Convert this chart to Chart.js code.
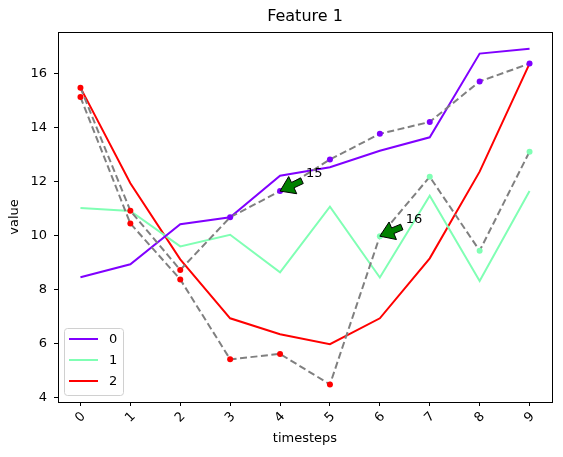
<!DOCTYPE html>
<html>
<head>
<meta charset="utf-8">
<script src="https://cdn.jsdelivr.net/npm/chart.js@4/dist/chart.umd.min.js"></script>
<style>
  body { margin: 0; background: #fff; }
  #wrap { width: 563px; height: 457px; }
</style>
</head>
<body>
<div id="wrap"><canvas id="featureChart"></canvas></div>
<script>
// data
var timesteps = [0, 1, 2, 3, 4, 5, 6, 7, 8, 9];
var seriesLabels = ["0", "1", "2"];
var seriesColors = ["#8000ff", "#80ffb4", "#ff0000"];
var series0 = [8.45, 8.93, 10.41, 10.67, 12.21, 12.52, 13.13, 13.63, 16.73, 16.91];
var series1 = [11.01, 10.90, 9.59, 10.02, 8.63, 11.06, 8.44, 11.47, 8.31, 11.64];
var series2 = [15.47, 11.93, 9.11, 6.93, 6.34, 5.97, 6.93, 9.15, 12.36, 16.36];
// dashed paths, each point coloured by its class
var pathA = [15.47, 10.91, 8.72, 10.67, 11.64, 12.81, 13.76, 14.20, 15.70, 16.36];
var pathAClass = [2, 2, 2, 0, 0, 0, 0, 0, 0, 0];
var pathB = [15.12, 10.44, 8.37, 5.41, 5.61, 4.48, 9.97, 12.17, 9.43, 13.10];
var pathBClass = [2, 2, 2, 2, 2, 2, 1, 1, 1, 1];
// annotations
var annotX = [4, 6];
var annotY = [11.64, 9.97];
var annotText = ["15", "16"];
var annotTextX = [4.52, 6.52];
var annotTextY = [12.28, 10.57];
var yTicks = [4, 6, 8, 10, 12, 14, 16];
var titleText = "Feature 1";

var FONT = "'DejaVu Sans', sans-serif";

function toPoints(ys) {
  return ys.map(function (v, i) { return { x: timesteps[i], y: v }; });
}

var datasets = [];
[pathA, pathB].forEach(function (p, k) {
  var cls = k === 0 ? pathAClass : pathBClass;
  var cols = cls.map(function (c) { return seriesColors[c]; });
  datasets.push({
    label: "path" + k,
    data: toPoints(p),
    borderColor: "#808080",
    borderWidth: 2,
    borderDash: [7, 3.5],
    pointRadius: 3,
    pointBorderWidth: 0,
    pointBackgroundColor: cols,
    pointBorderColor: cols,
    fill: false,
    tension: 0
  });
});
[series0, series1, series2].forEach(function (s, k) {
  datasets.push({
    label: seriesLabels[k],
    data: toPoints(s),
    borderColor: seriesColors[k],
    borderWidth: 2,
    pointRadius: 0,
    fill: false,
    tension: 0
  });
});

var extras = {
  id: "extras",
  afterDatasetsDraw: function (chart) {
    var ctx = chart.ctx, xs = chart.scales.x, ys = chart.scales.y;
    ctx.save();
    // arrows + labels
    for (var i = 0; i < annotX.length; i++) {
      var tx = xs.getPixelForValue(annotX[i]), ty = ys.getPixelForValue(annotY[i]);
      var lx = xs.getPixelForValue(annotTextX[i]), ly = ys.getPixelForValue(annotTextY[i]);
      var sx = lx - 4, sy = ly + 7;
      var dx = tx - sx, dy = ty - sy, L = Math.sqrt(dx * dx + dy * dy);
      var ux = dx / L, uy = dy / L, nx = -uy, ny = ux;
      var hl = Math.min(14, L * 0.6), hw = 9.5, bw = 3;
      var bx = tx - ux * hl, by = ty - uy * hl;
      ctx.beginPath();
      ctx.moveTo(sx + nx * bw, sy + ny * bw);
      ctx.lineTo(bx + nx * bw, by + ny * bw);
      ctx.lineTo(bx + nx * hw, by + ny * hw);
      ctx.lineTo(tx, ty);
      ctx.lineTo(bx - nx * hw, by - ny * hw);
      ctx.lineTo(bx - nx * bw, by - ny * bw);
      ctx.lineTo(sx - nx * bw, sy - ny * bw);
      ctx.closePath();
      ctx.fillStyle = "#008000";
      ctx.fill();
      ctx.strokeStyle = "#000";
      ctx.lineWidth = 1;
      ctx.stroke();
      ctx.fillStyle = "#000";
      ctx.font = "13px " + FONT;
      ctx.textAlign = "left";
      ctx.textBaseline = "middle";
      ctx.fillText(annotText[i], lx, ly);
    }
    ctx.restore();
  },
  afterDraw: function (chart) {
    var ctx = chart.ctx, a = chart.chartArea;
    ctx.save();
    // frame
    ctx.strokeStyle = "#000";
    ctx.lineWidth = 1;
    ctx.strokeRect(Math.round(a.left) + 0.5, Math.round(a.top) + 0.5,
      Math.round(a.right - a.left), Math.round(a.bottom - a.top));
    // title
    ctx.fillStyle = "#000";
    ctx.font = "16px " + FONT;
    ctx.textAlign = "center";
    ctx.textBaseline = "middle";
    ctx.fillText(titleText, (a.left + a.right) / 2, 17);
    // legend
    var lx = a.left + 6, ly = a.bottom - 74, w = 59, h = 67;
    ctx.beginPath();
    if (ctx.roundRect) ctx.roundRect(lx + 0.5, ly + 0.5, w, h, 3); else ctx.rect(lx + 0.5, ly + 0.5, w, h);
    ctx.fillStyle = "rgba(255,255,255,0.8)";
    ctx.fill();
    ctx.strokeStyle = "#d0d0d0";
    ctx.stroke();
    ctx.font = "13px " + FONT;
    ctx.textAlign = "left";
    for (var k = 0; k < seriesLabels.length; k++) {
      var yy = ly + 11 + k * 21;
      ctx.beginPath();
      ctx.moveTo(lx + 5, yy);
      ctx.lineTo(lx + 34, yy);
      ctx.strokeStyle = seriesColors[k];
      ctx.lineWidth = 2;
      ctx.stroke();
      ctx.fillStyle = "#000";
      ctx.fillText(seriesLabels[k], lx + 45, yy + 1);
    }
    ctx.restore();
  }
};

new Chart(document.getElementById("featureChart"), {
  type: "line",
  data: { datasets: datasets },
  options: {
    responsive: true,
    maintainAspectRatio: false,
    animation: false,
    layout: { padding: { top: 32, right: 11, left: 0, bottom: 0 } },
    plugins: {
      legend: { display: false },
      title: { display: false },
      tooltip: { enabled: false }
    },
    scales: {
      x: {
        type: "linear",
        min: -0.45,
        max: 9.45,
        afterBuildTicks: function (scale) {
          scale.ticks = timesteps.map(function (v) { return { value: v }; });
        },
        afterFit: function (scale) { scale.height = 55; },
        grid: { display: true, drawOnChartArea: false, drawTicks: true, tickLength: 4, color: "#000" },
        border: { display: true, color: "#000", width: 1 },
        ticks: {
          minRotation: 45, maxRotation: 45, labelOffset: 3, padding: 3,
          color: "#000", font: { family: FONT, size: 13 },
          callback: function (v) { return String(v); }
        },
        title: { display: true, text: "timesteps", color: "#000", font: { family: FONT, size: 13 }, padding: { top: 0, bottom: 11 } }
      },
      y: {
        min: 3.83,
        max: 17.53,
        afterBuildTicks: function (scale) {
          scale.ticks = yTicks.map(function (v) { return { value: v }; });
        },
        afterFit: function (scale) { scale.width = 58; },
        grid: { display: true, drawOnChartArea: false, drawTicks: true, tickLength: 4, color: "#000" },
        border: { display: true, color: "#000", width: 1 },
        ticks: { padding: 7, color: "#000", font: { family: FONT, size: 13 } },
        title: { display: true, text: "value", color: "#000", font: { family: FONT, size: 13 }, padding: { top: 7, bottom: 0 } }
      }
    }
  },
  plugins: [extras]
});
</script>
</body>
</html>
